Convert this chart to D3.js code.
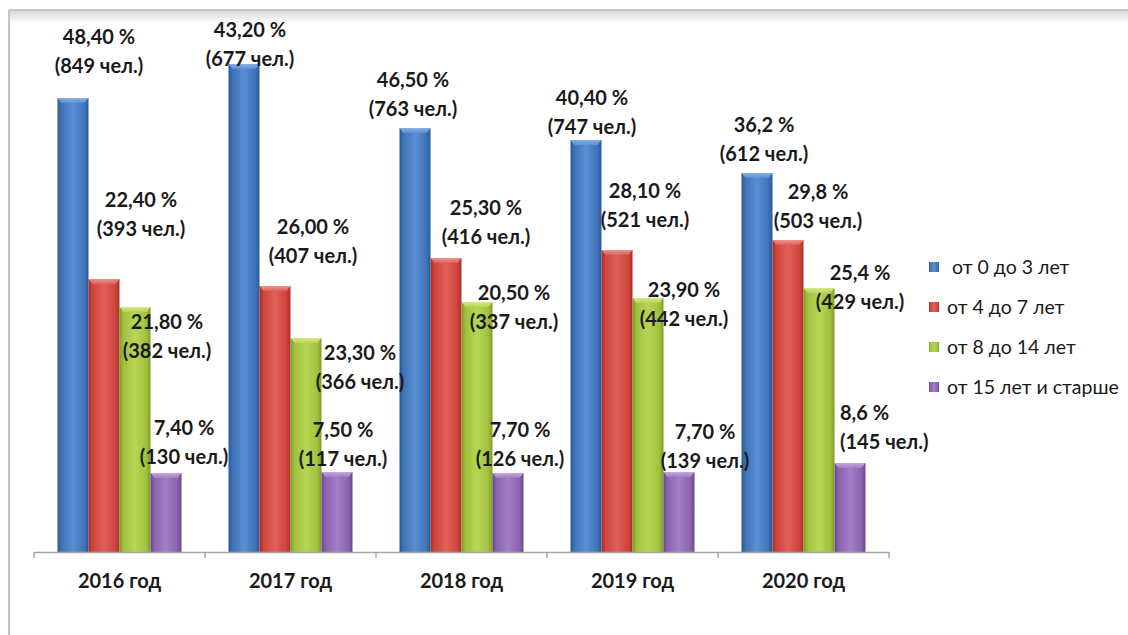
<!DOCTYPE html>
<html>
<head>
<meta charset="utf-8">
<script src="https://cdn.jsdelivr.net/npm/d3@7/dist/d3.min.js"></script>
<style>
  html, body { margin: 0; padding: 0; background: #fff; }
  svg { display: block; }
  text { font-family: Lato, "Open Sans", sans-serif; fill: #1a1a1a; }
</style>
</head>
<body>
<svg id="chart" width="1128" height="635"></svg>
<script>
// ---------- DATA ----------
const years = ["2016 год", "2017 год", "2018 год", "2019 год", "2020 год"];
const seriesNames = [" от 0 до 3 лет", "от 4 до 7 лет", "от 8 до 14 лет", "от 15 лет и старше"];

// bar lengths as drawn in the picture (chart's own scale)
const bars0to3   = [45.4, 48.8, 42.4, 41.2, 37.9];
const bars4to7   = [27.3, 26.6, 29.4, 30.2, 31.2];
const bars8to14  = [24.5, 21.4, 25.0, 25.4, 26.4];
const bars15plus = [7.9, 8.0, 7.9, 8.0, 8.9];

// label texts
const pct0to3   = ["48,40 %", "43,20 %", "46,50 %", "40,40 %", "36,2 %"];
const pct4to7   = ["22,40 %", "26,00 %", "25,30 %", "28,10 %", "29,8 %"];
const pct8to14  = ["21,80 %", "23,30 %", "20,50 %", "23,90 %", "25,4 %"];
const pct15plus = ["7,40 %", "7,50 %", "7,70 %", "7,70 %", "8,6 %"];

const cnt0to3   = [849, 677, 763, 747, 612];
const cnt4to7   = [393, 407, 416, 521, 503];
const cnt8to14  = [382, 366, 337, 442, 429];
const cnt15plus = [130, 117, 126, 139, 145];

// ---------- LAYOUT (label offsets from bar top-centre) ----------
const labelOffsets = [
  [[26, -61], [6, -34], [-2, -48], [6, -42], [7, -48]],
  [[37, -79], [38, -59], [40, -50], [28, -59], [30, -48]],
  [[32, 15], [54, 15], [37, -9], [36, -8], [41, -15]],
  [[18, -45], [6, -42], [12, -43], [26, -40], [-10, -50, "start"]]
];

const barSeries = [bars0to3, bars4to7, bars8to14, bars15plus];
const pctSeries = [pct0to3, pct4to7, pct8to14, pct15plus];
const cntSeries = [cnt0to3, cnt4to7, cnt8to14, cnt15plus];

const colors = [
  {base: "#3f74ba", dark: "#2b5895", light: "#5a8fd3", cap: "#8fb6e6"},
  {base: "#d0443d", dark: "#a9302b", light: "#e0615a", cap: "#f09a93"},
  {base: "#a2c23e", dark: "#7f9c27", light: "#b8d556", cap: "#d9ec8c"},
  {base: "#8c63b0", dark: "#6b4790", light: "#a27fc6", cap: "#c9b0e2"}
];

const svg = d3.select("#chart");
const defs = svg.append("defs");

colors.forEach((c, i) => {
  const g = defs.append("linearGradient").attr("id", "bar" + i)
    .attr("x1", "0%").attr("x2", "100%").attr("y1", "0%").attr("y2", "0%");
  g.append("stop").attr("offset", "0%").attr("stop-color", c.dark);
  g.append("stop").attr("offset", "14%").attr("stop-color", c.base);
  g.append("stop").attr("offset", "50%").attr("stop-color", c.light);
  g.append("stop").attr("offset", "86%").attr("stop-color", c.base);
  g.append("stop").attr("offset", "100%").attr("stop-color", c.dark);
  const cg = defs.append("linearGradient").attr("id", "cap" + i)
    .attr("x1", "0%").attr("x2", "0%").attr("y1", "0%").attr("y2", "100%");
  cg.append("stop").attr("offset", "0%").attr("stop-color", c.cap);
  cg.append("stop").attr("offset", "100%").attr("stop-color", c.light);
});

const shadow = defs.append("linearGradient").attr("id", "topShadow")
  .attr("x1", "0%").attr("x2", "0%").attr("y1", "0%").attr("y2", "100%");
shadow.append("stop").attr("offset", "0%").attr("stop-color", "#d8d8d8");
shadow.append("stop").attr("offset", "100%").attr("stop-color", "#ffffff");

// ---------- FRAME ----------
svg.append("rect").attr("x", 9).attr("y", 11).attr("width", 1119).attr("height", 12)
  .attr("fill", "url(#topShadow)");
svg.append("line").attr("x1", 9).attr("x2", 1128).attr("y1", 10).attr("y2", 10)
  .attr("stroke", "#c4c4c4").attr("stroke-width", 2);
svg.append("line").attr("x1", 9).attr("x2", 9).attr("y1", 10).attr("y2", 635)
  .attr("stroke", "#c4c4c4").attr("stroke-width", 2);

// ---------- SCALES ----------
const baseY = 552;
const y = d3.scaleLinear().domain([0, 50]).range([baseY, baseY - 500]);
const x = d3.scaleBand().domain(years).range([34, 889]).padding(0);
const bw = x.bandwidth();
const xi = d3.scaleBand().domain(d3.range(seriesNames.length)).range([23.5, bw - 23.5]).padding(0);

// ---------- BARS ----------
const rows = [];
years.forEach((yr, j) => {
  barSeries.forEach((s, i) => {
    rows.push({year: yr, j, i, v: s[j], pct: pctSeries[i][j], cnt: cntSeries[i][j], off: labelOffsets[i][j]});
  });
});

const barG = svg.append("g");
const bars = barG.selectAll("g.bar").data(rows).join("g").attr("class", "bar");
bars.append("rect")
  .attr("x", d => x(d.year) + xi(d.i))
  .attr("y", d => y(d.v))
  .attr("width", xi.bandwidth())
  .attr("height", d => baseY - y(d.v))
  .attr("fill", d => "url(#bar" + d.i + ")");
bars.append("path")
  .attr("d", d => {
    const x0 = x(d.year) + xi(d.i), x1 = x0 + xi.bandwidth(), t = y(d.v);
    return `M${x0},${t} L${x1},${t} L${x1 - 4},${t + 5} L${x0 + 4},${t + 5} Z`;
  })
  .attr("fill", d => "url(#cap" + d.i + ")")
  .attr("opacity", 0.9);

// ---------- AXIS ----------
const axis = svg.append("g").attr("transform", `translate(0,${baseY})`)
  .call(d3.axisBottom(x).tickSize(0).tickPadding(22));
axis.select(".domain").attr("stroke", "#a6a6a6").attr("stroke-width", 1.5);
axis.selectAll(".tick text")
  .style("font-size", "20px").style("font-weight", "700")
  .attr("dy", "0.71em").attr("y", 22);
const bounds = years.map(yr => x(yr)).concat([x(years[years.length - 1]) + bw]);
axis.selectAll("line.bound").data(bounds).join("line").attr("class", "bound")
  .attr("x1", d => d).attr("x2", d => d).attr("y1", 0).attr("y2", 6)
  .attr("stroke", "#a6a6a6").attr("stroke-width", 1.5);

// ---------- DATA LABELS ----------
const lab = svg.append("g").selectAll("text.lbl").data(rows).join("text").attr("class", "lbl")
  .attr("text-anchor", d => d.off[2] || "middle")
  .style("font-size", "20px").style("font-weight", "700");
lab.each(function(d) {
  const cx = x(d.year) + xi(d.i) + xi.bandwidth() / 2 + d.off[0];
  const cy = y(d.v) + d.off[1];
  const t = d3.select(this);
  t.append("tspan").attr("x", cx).attr("y", cy).attr("dy", "0.35em").text(d.pct);
  t.append("tspan").attr("x", cx).attr("y", cy + 29).attr("dy", "0.35em").text("(" + d.cnt + " чел.)");
});

// ---------- LEGEND ----------
const legend = svg.append("g").attr("transform", "translate(929,267)");
const li = legend.selectAll("g").data(seriesNames).join("g")
  .attr("transform", (d, i) => `translate(0,${i * 40})`);
li.append("rect").attr("x", 0).attr("y", -5).attr("width", 10).attr("height", 10)
  .attr("fill", (d, i) => "url(#bar" + i + ")");
li.append("text").attr("x", 18).attr("y", 0).attr("dy", "0.35em")
  .style("font-size", "19.5px").style("white-space", "pre")
  .text(d => d);
</script>
</body>
</html>
